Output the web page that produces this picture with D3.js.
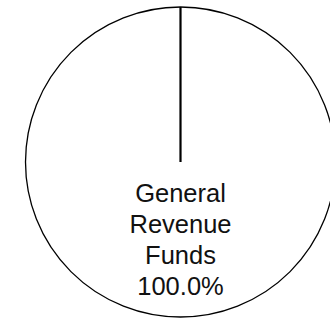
<!DOCTYPE html>
<html lang="en">
<head>
  <meta charset="utf-8">
  <script src="https://d3js.org/d3.v7.min.js"></script>
  <style>
    body { margin: 0; background: #fff; }
    svg { display: block; }
  </style>
</head>
<body>
  <svg width="330" height="318"></svg>
  <script>
    const categories = ["General Revenue Funds"];
    const labelLines = [["General", "Revenue", "Funds"]];
    const values = [100.0];

    const svg = d3.select("svg");
    const cx = 180.5, cy = 162, r = 155;

    const g = svg.append("g").attr("transform", `translate(${cx},${cy})`);

    const pie = d3.pie().sort(null).value(d => d);
    const arcs = pie(values);
    const arc = d3.arc().innerRadius(0).outerRadius(r);

    g.selectAll("path.slice")
      .data(arcs)
      .join("path")
      .attr("class", "slice")
      .attr("d", arc)
      .attr("fill", "#fff")
      .attr("stroke", "#000")
      .attr("stroke-width", 1.3);

    // slice boundaries
    g.selectAll("line.edge")
      .data(arcs)
      .join("line")
      .attr("class", "edge")
      .attr("x1", 0).attr("y1", 0)
      .attr("x2", d => r * Math.sin(d.startAngle))
      .attr("y2", d => -r * Math.cos(d.startAngle))
      .attr("stroke", "#000")
      .attr("stroke-width", 2.2);

    const total = d3.sum(values);
    const lineH = 30.7;

    arcs.forEach((d, i) => {
      const [x, y] = arc.centroid(d);
      const lines = labelLines[i].concat([(d.value / total * 100).toFixed(1) + "%"]);
      const t = g.append("text")
        .attr("text-anchor", "middle")
        .attr("font-family", "Liberation Sans, Arial, sans-serif")
        .attr("font-size", 25.5)
        .attr("fill", "#111");
      lines.forEach((s, j) => {
        t.append("tspan")
          .attr("x", x)
          .attr("y", y + (j - (lines.length - 1) / 2) * lineH + 9)
          .text(s);
      });
    });
  </script>
</body>
</html>
